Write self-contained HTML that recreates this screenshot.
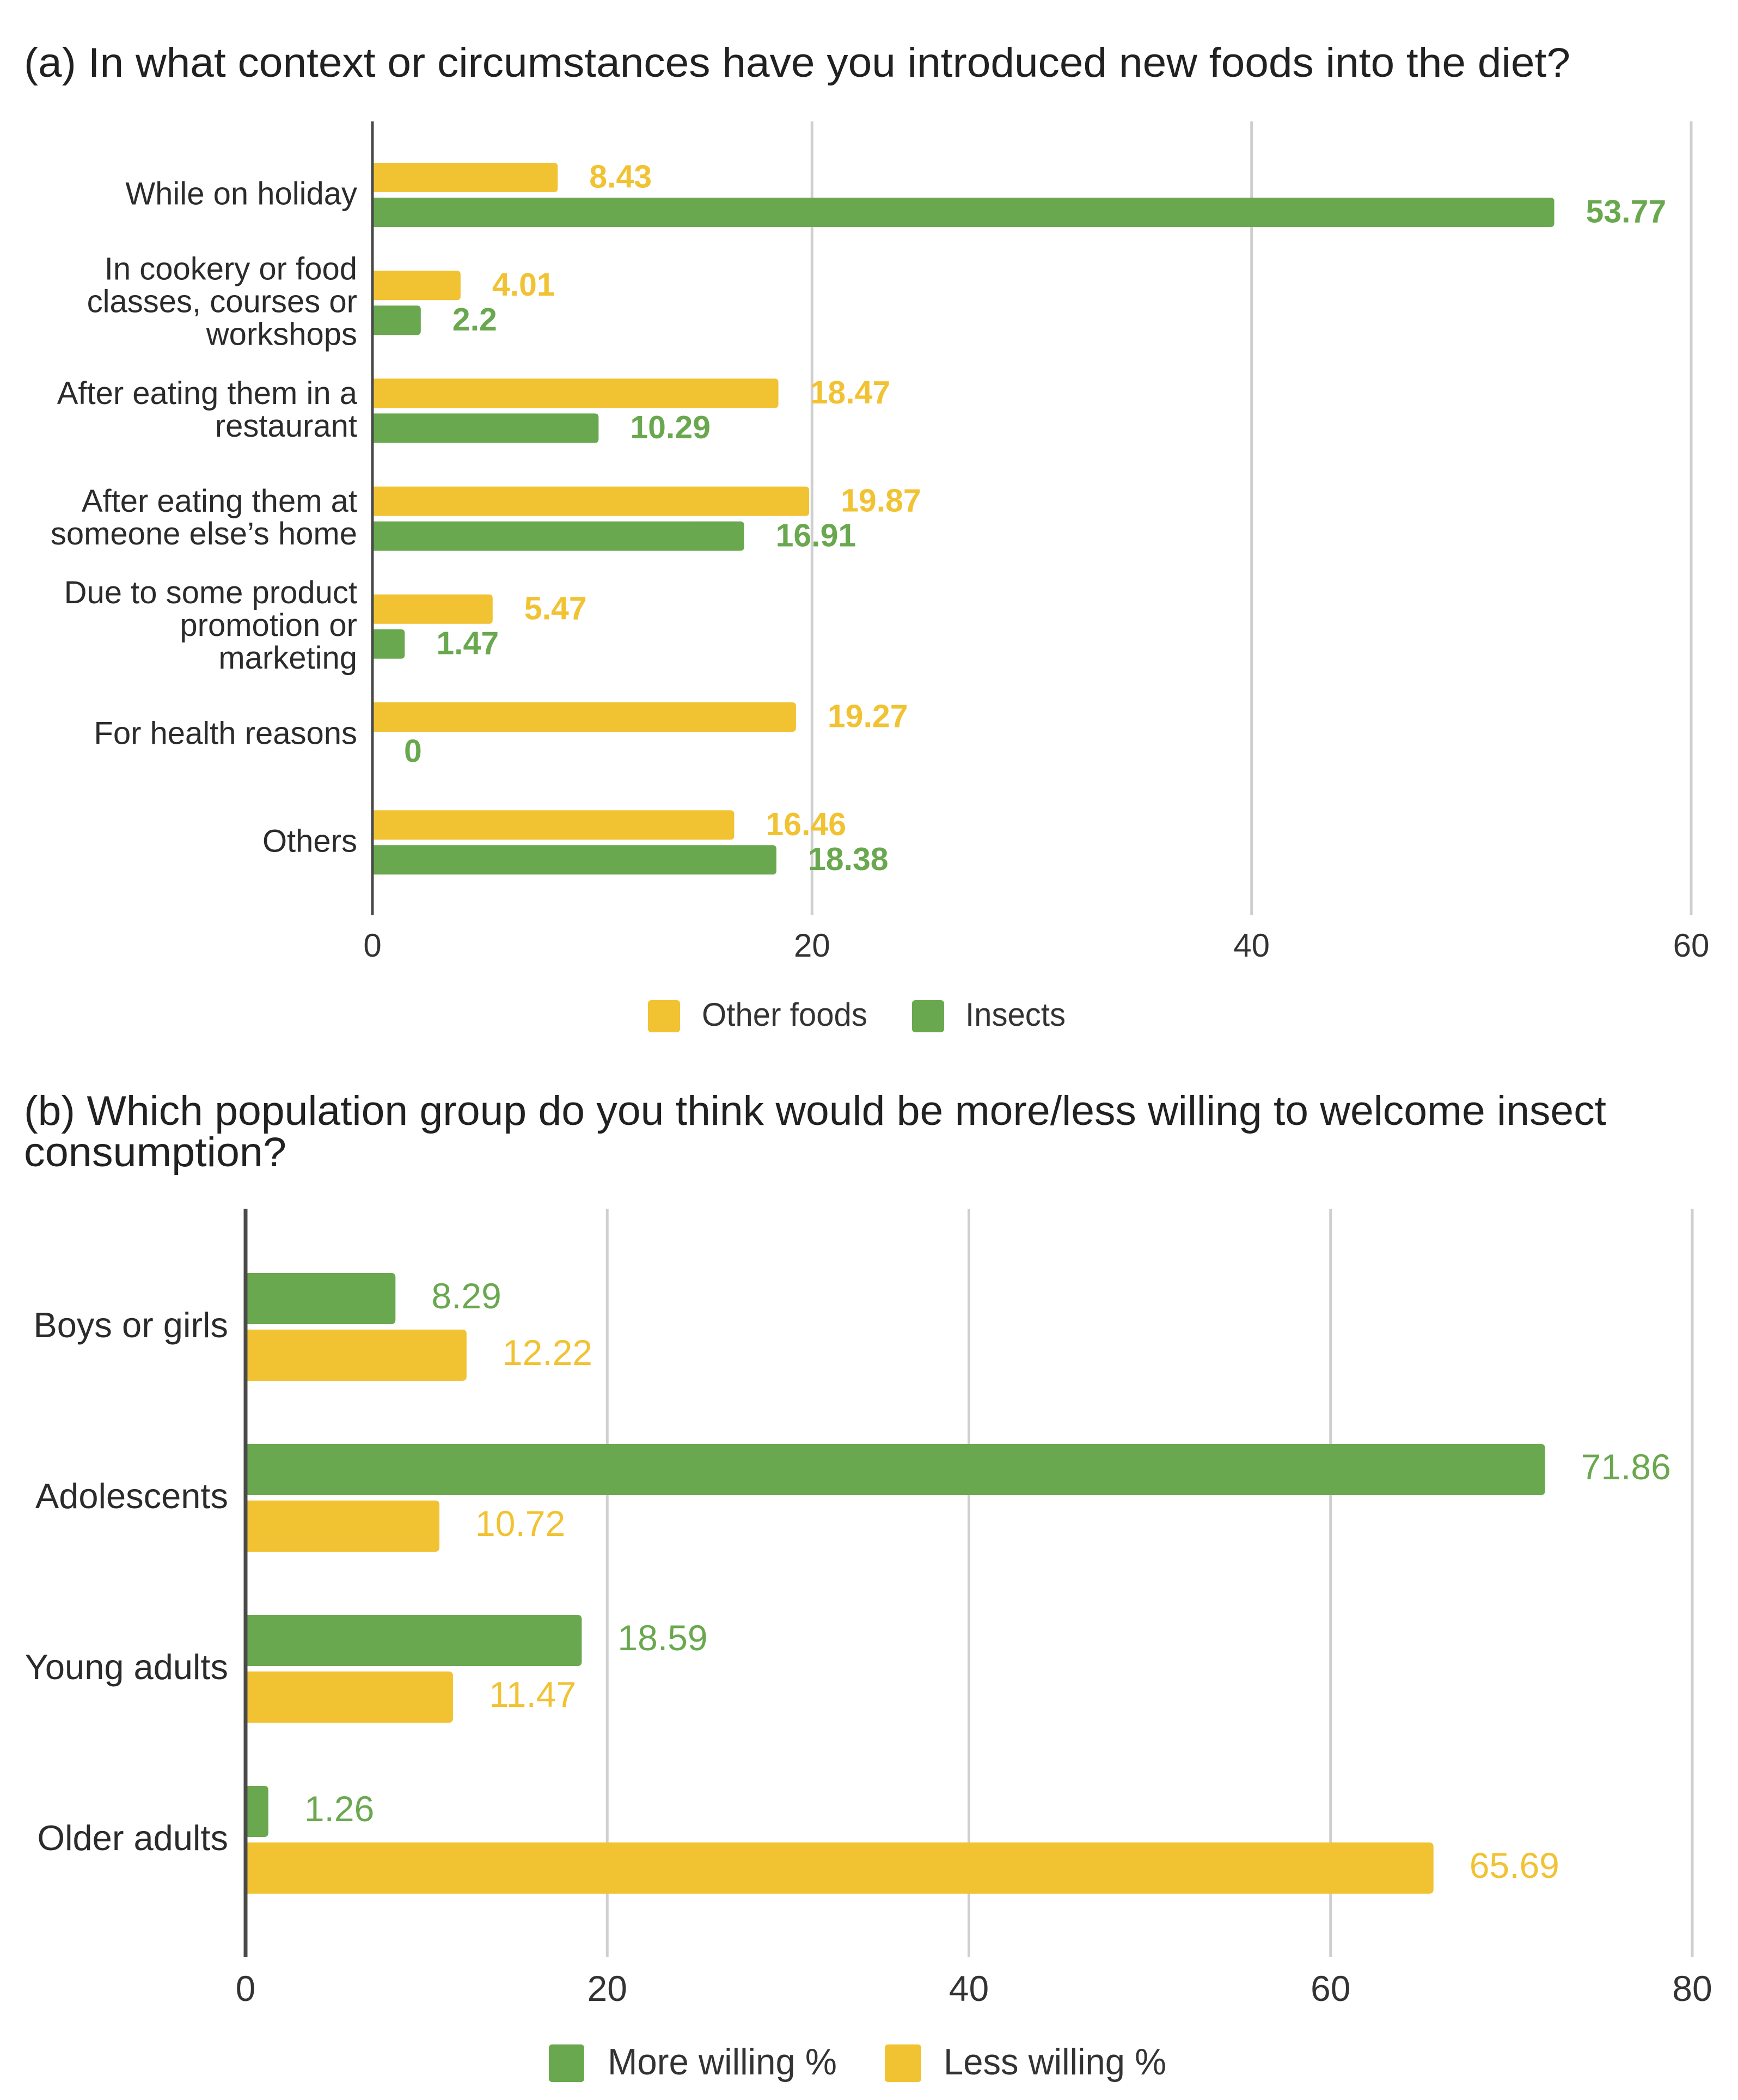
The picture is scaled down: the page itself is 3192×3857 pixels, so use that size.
<!DOCTYPE html>
<html lang="en">
<head>
<meta charset="utf-8">
<title>New foods and insect consumption charts</title>
<style>
html,body{margin:0;padding:0;background:#fff;}
svg{display:block;}
text{font-family:"Liberation Sans",Arial,sans-serif;}
</style>
</head>
<body>
<svg id="figure" xmlns="http://www.w3.org/2000/svg" width="3192" height="3857" viewBox="0 0 3192 3857">
  <rect x="0" y="0" width="3192" height="3857" fill="#ffffff"/>
  <text x="44" y="141" font-size="76" fill="#212121" textLength="2840" lengthAdjust="spacingAndGlyphs">(a) In what context or circumstances have you introduced new foods into the diet?</text>
  <text x="44" y="2066" font-size="76" fill="#212121" textLength="2906" lengthAdjust="spacingAndGlyphs">(b) Which population group do you think would be more/less willing to welcome insect</text>
  <text x="44" y="2142" font-size="76" fill="#212121" textLength="482" lengthAdjust="spacingAndGlyphs">consumption?</text>
  <g id="chart-a"></g>
  <g id="chart-b"></g>
  <g>
    <rect x="1190" y="1837" width="59" height="59" rx="6" fill="#f1c232"/>
    <text x="1289" y="1884" font-size="60" fill="#333333" textLength="304" lengthAdjust="spacingAndGlyphs">Other foods</text>
    <rect x="1675" y="1837" width="59" height="59" rx="6" fill="#6aa84f"/>
    <text x="1773" y="1884" font-size="60" fill="#333333" textLength="184" lengthAdjust="spacingAndGlyphs">Insects</text>
  </g>
  <g>
    <rect x="1008" y="3755" width="65" height="69" rx="6" fill="#6aa84f"/>
    <text x="1116" y="3810" font-size="68" fill="#333333" textLength="421" lengthAdjust="spacingAndGlyphs">More willing %</text>
    <rect x="1625" y="3755" width="67" height="69" rx="6" fill="#f1c232"/>
    <text x="1733" y="3810" font-size="68" fill="#333333" textLength="409" lengthAdjust="spacingAndGlyphs">Less willing %</text>
  </g>
</svg>
<script>
const categoriesA = ["While on holiday", "In cookery or food\nclasses, courses or\nworkshops", "After eating them in a\nrestaurant", "After eating them at\nsomeone else\u2019s home", "Due to some product\npromotion or\nmarketing", "For health reasons", "Others"];
const otherFoods = [8.43, 4.01, 18.47, 19.87, 5.47, 19.27, 16.46];
const insects = [53.77, 2.2, 10.29, 16.91, 1.47, 0, 18.38];
const ticksA = [0, 20, 40, 60];

const categoriesB = ["Boys or girls", "Adolescents", "Young adults", "Older adults"];
const moreWilling = [8.29, 71.86, 18.59, 1.26];
const lessWilling = [12.22, 10.72, 11.47, 65.69];
const ticksB = [0, 20, 40, 60, 80];

const SVGNS = "http://www.w3.org/2000/svg";
const YELLOW = "#f1c232";
const GREEN = "#6aa84f";

function make(parent, tag, props, content) {
  const el = document.createElementNS(SVGNS, tag);
  for (const k in props) el.setAttribute(k, props[k]);
  if (content !== undefined) el.textContent = content;
  parent.appendChild(el);
  return el;
}

function barPath(x0, x1, top, h, r) {
  const w = Math.max(x1 - x0, 0);
  const rr = Math.min(r, w);
  return "M" + x0 + " " + top + "H" + (x0 + w - rr) + "Q" + (x0 + w) + " " + top + " " + (x0 + w) + " " + (top + rr) +
    "V" + (top + h - rr) + "Q" + (x0 + w) + " " + (top + h) + " " + (x0 + w - rr) + " " + (top + h) + "H" + x0 + "Z";
}

function drawChart(root, cfg) {
  const xScale = v => cfg.x0 + (v - cfg.ticks[0]) * (cfg.xEnd - cfg.x0) / (cfg.ticks[cfg.ticks.length - 1] - cfg.ticks[0]);
  const yScale = i => cfg.firstCenter + i * cfg.step;

  cfg.ticks.forEach(t => {
    if (t !== 0) {
      const grid = make(root, "line", {x1: xScale(t), x2: xScale(t), y1: cfg.top, y2: cfg.bottom, stroke: "#cfcfcf", "stroke-width": cfg.gridWidth});
      
      
    }
    const label = make(root, "text", {x: xScale(t), y: cfg.tickY, "font-size": cfg.tickSize, fill: "#333333", "text-anchor": "middle"}, String(t));
    
    
  });

  cfg.categories.forEach((name, i) => {
    const center = yScale(i);
    const lines = name.split("\n");
    const firstBase = center - (lines.length - 1) * cfg.catLine / 2 + cfg.catSize * cfg.catShift;
    lines.forEach((ln, j) => {
      const label = make(root, "text", {x: cfg.catX, y: firstBase + j * cfg.catLine, "font-size": cfg.catSize, fill: "#2b2b2b", "text-anchor": "end"}, ln);
      
      
    });

    cfg.series.forEach((s, k) => {
      const val = s.values[i];
      const top = k === 0 ? center - cfg.gap / 2 - cfg.barH : center + cfg.gap / 2;
      if (val > 0) {
        const bar = make(root, "path", {d: barPath(cfg.x0, xScale(val), top, cfg.barH, cfg.radius), fill: s.color});
        
        
      }
      const value = make(root, "text", {x: xScale(val) + cfg.labelGap, y: top + cfg.barH / 2 + cfg.valSize * cfg.valShift, "font-size": cfg.valSize, "font-weight": cfg.valWeight, fill: s.color}, String(val));
      
      
    });
  });

  const axis = make(root, "line", {x1: cfg.x0, x2: cfg.x0, y1: cfg.top, y2: cfg.bottom, stroke: "#4a4a4a", "stroke-width": cfg.axisWidth});
  
  
}

drawChart(document.getElementById("chart-a"), {
  categories: categoriesA,
  series: [{key: "other-foods", values: otherFoods, color: YELLOW}, {key: "insects", values: insects, color: GREEN}],
  ticks: ticksA,
  x0: 684, xEnd: 3106, top: 223, bottom: 1681,
  firstCenter: 358, step: 198.2, barH: 54, gap: 10, radius: 7,
  labelGap: 58, valSize: 59, valWeight: "bold", valShift: 0.317,
  catX: 656, catSize: 58, catLine: 60, catShift: 0.30,
  tickY: 1757, tickSize: 60, gridWidth: 5, axisWidth: 5
});

drawChart(document.getElementById("chart-b"), {
  categories: categoriesB,
  series: [{key: "more-willing", values: moreWilling, color: GREEN}, {key: "less-willing", values: lessWilling, color: YELLOW}],
  ticks: ticksB,
  x0: 451, xEnd: 3108, top: 2220, bottom: 3594,
  firstCenter: 2437, step: 314, barH: 94, gap: 10, radius: 8,
  labelGap: 66, valSize: 66, valWeight: "normal", valShift: 0.27,
  catX: 419, catSize: 65, catLine: 70, catShift: 0.29,
  tickY: 3675, tickSize: 66, gridWidth: 5, axisWidth: 7
});
</script>
</body>
</html>
